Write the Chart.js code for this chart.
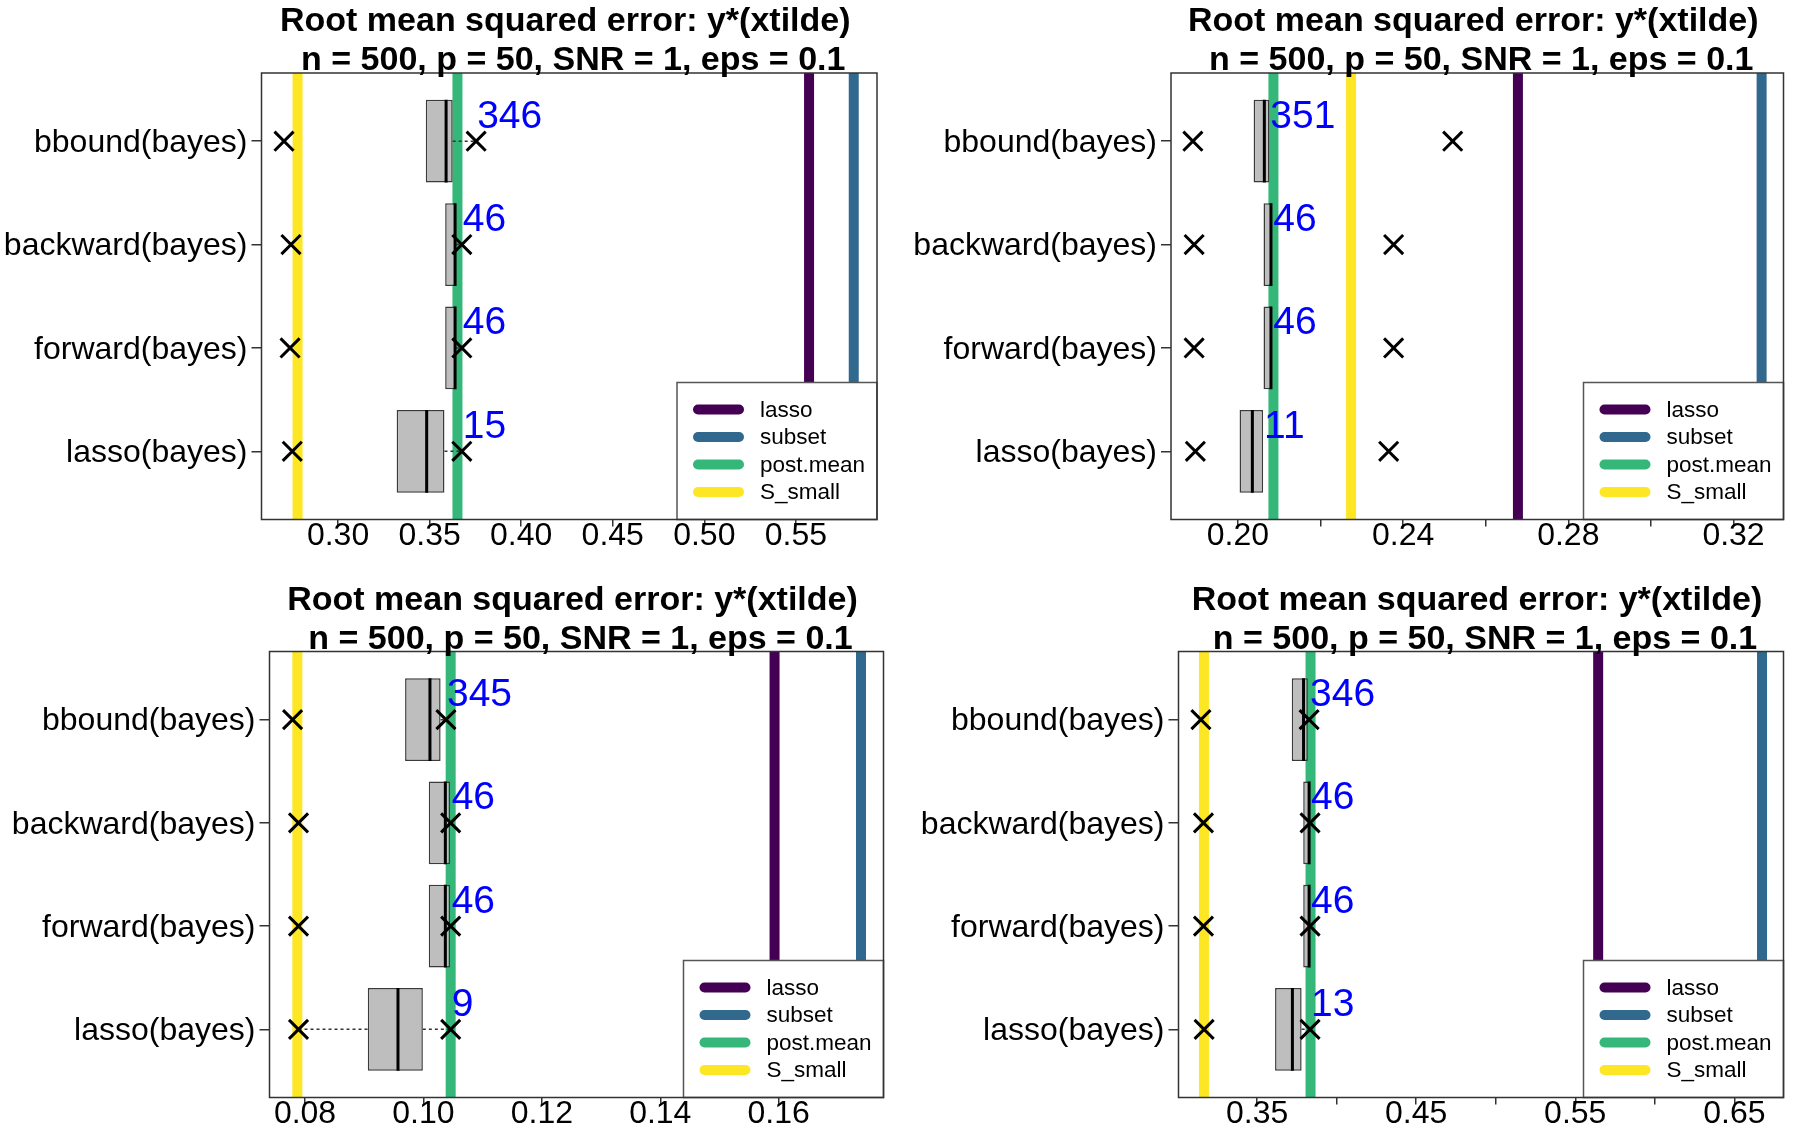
<!DOCTYPE html>
<html>
<head>
<meta charset="utf-8">
<script src="https://cdn.jsdelivr.net/npm/chart.js@4.4.1/dist/chart.umd.min.js"></script>
<style>
  body { margin: 0; background: #fff; }
  #wrap { position: relative; width: 1800px; height: 1128px; }
  canvas { position: absolute; }
</style>
</head>
<body>
<div id="wrap">
  <canvas id="c0" width="900" height="564" style="left:0;top:0"></canvas>
  <canvas id="c1" width="900" height="564" style="left:900px;top:0"></canvas>
  <canvas id="c2" width="900" height="564" style="left:0;top:564px"></canvas>
  <canvas id="c3" width="900" height="564" style="left:900px;top:564px"></canvas>
</div>
<script>
// categories from bottom (1) to top (4)
const catNames = ['lasso(bayes)', 'forward(bayes)', 'backward(bayes)', 'bbound(bayes)'];
const catPos = [1, 2, 3, 4];
const titleLines = ['Root mean squared error: y*(xtilde)', 'n = 500, p = 50, SNR = 1, eps = 0.1'];

// one row per panel: top-left, top-right, bottom-left, bottom-right
const boxQ1 = [
  [0.3320, 0.3585, 0.3585, 0.3479],
  [0.2004, 0.2062, 0.2062, 0.2038],
  [0.0906, 0.1009, 0.1009, 0.0969],
  [0.3613, 0.3790, 0.3790, 0.3718]
];
const boxMed = [
  [0.3484, 0.3639, 0.3639, 0.3590],
  [0.2035, 0.2080, 0.2080, 0.2064],
  [0.0957, 0.1037, 0.1037, 0.1011],
  [0.3722, 0.3827, 0.3827, 0.3792]
];
const boxQ3 = [
  [0.3581, 0.3645, 0.3645, 0.3626],
  [0.2061, 0.2083, 0.2083, 0.2076],
  [0.0999, 0.1045, 0.1045, 0.1029],
  [0.3780, 0.3833, 0.3833, 0.3819]
];
const whiskLo = [
  [0.3320, 0.3585, 0.3585, 0.3479],
  [0.2004, 0.2062, 0.2062, 0.2038],
  [0.0789, 0.1009, 0.1009, 0.0969],
  [0.3613, 0.3790, 0.3790, 0.3718]
];
const whiskHi = [
  [0.3676, 0.3676, 0.3676, 0.3754],
  [0.2061, 0.2083, 0.2083, 0.2076],
  [0.1046, 0.1046, 0.1046, 0.1038],
  [0.3833, 0.3833, 0.3833, 0.3827]
];
const crossLeft = [
  [0.2750, 0.2738, 0.2743, 0.2705],
  [0.1897, 0.1894, 0.1894, 0.1891],
  [0.0789, 0.0789, 0.0789, 0.0779],
  [0.3167, 0.3163, 0.3163, 0.3147]
];
const crossRight = [
  [0.3676, 0.3676, 0.3676, 0.3754],
  [0.2365, 0.2377, 0.2377, 0.2520],
  [0.1046, 0.1046, 0.1046, 0.1038],
  [0.3833, 0.3833, 0.3833, 0.3827]
];
const counts = [
  [15, 46, 46, 346],
  [11, 46, 46, 351],
  [9, 46, 46, 345],
  [13, 46, 46, 346]
];

// reference lines
const refNames = ['lasso', 'subset', 'post.mean', 'S_small'];
const refColors = ['#440154', '#31688E', '#35B779', '#FDE725'];
const refLasso = [0.5572, 0.2678, 0.1593, 0.5644];
const refSubset = [0.5816, 0.3268, 0.1739, 0.6674];
const refPostMean = [0.3652, 0.2086, 0.1046, 0.3836];
const refSSmall = [0.2779, 0.2274, 0.0787, 0.3166];

// axes
const xMin = [0.2582, 0.1838, 0.0740, 0.3006];
const xMax = [0.5943, 0.3321, 0.1777, 0.6809];
const xTicks = [
  [0.30, 0.35, 0.40, 0.45, 0.50, 0.55],
  [0.20, 0.22, 0.24, 0.26, 0.28, 0.30, 0.32],
  [0.08, 0.10, 0.12, 0.14, 0.16],
  [0.35, 0.40, 0.45, 0.50, 0.55, 0.60, 0.65]
];
const xLabelEvery = [1, 2, 1, 2];
const yRange = [0.34, 4.66];

// plot boxes inside each 900x564 canvas
const areas = [
  { l: 261.5, r: 877, t: 73, b: 519.5 },
  { l: 271, r: 886, t: 73, b: 519.5 },
  { l: 269.5, r: 884.5, t: 87.5, b: 533.5 },
  { l: 278.5, r: 894, t: 87.5, b: 533.5 }
];

Chart.defaults.font.family = "'Liberation Sans', Arial, sans-serif";
Chart.defaults.color = '#000';

const decorPlugin = {
  id: 'decor',
  afterDatasetsDraw(chart) {
    const p = chart.options.plugins.decor.panel;
    const ctx = chart.ctx;
    const xs = chart.scales.x, ys = chart.scales.y;
    ctx.save();
    ctx.fillStyle = '#0000FF';
    ctx.font = "39px 'Liberation Sans', Arial, sans-serif";
    ctx.textAlign = 'left';
    ctx.textBaseline = 'alphabetic';
    catPos.forEach((c, i) => {
      ctx.fillText(String(counts[p][i]), xs.getPixelForValue(whiskHi[p][i]) + 1, ys.getPixelForValue(c + 0.13));
    });
    ctx.restore();
  },
  afterDraw(chart) {
    const ctx = chart.ctx;
    const a = chart.chartArea;
    ctx.save();
    // legend
    const lw = 200, lh = 137;
    const lx = a.right - lw, ly = a.bottom - lh;
    ctx.fillStyle = '#fff';
    ctx.fillRect(lx, ly, lw, lh);
    ctx.strokeStyle = '#555';
    ctx.lineWidth = 1.5;
    ctx.strokeRect(lx, ly, lw, lh);
    ctx.font = "22.5px 'Liberation Sans', Arial, sans-serif";
    ctx.textBaseline = 'middle';
    ctx.textAlign = 'left';
    refNames.forEach((n, k) => {
      const yy = ly + 27 + k * 27.5;
      ctx.strokeStyle = refColors[k];
      ctx.lineWidth = 10;
      ctx.lineCap = 'round';
      ctx.beginPath();
      ctx.moveTo(lx + 21, yy);
      ctx.lineTo(lx + 62, yy);
      ctx.stroke();
      ctx.fillStyle = '#000';
      ctx.fillText(n, lx + 83, yy + 1);
    });
    // frame
    ctx.lineCap = 'butt';
    ctx.strokeStyle = '#333';
    ctx.lineWidth = 1.5;
    ctx.strokeRect(a.left, a.top, a.right - a.left, a.bottom - a.top);
    // title
    ctx.fillStyle = '#000';
    ctx.font = "bold 34px 'Liberation Sans', Arial, sans-serif";
    ctx.textAlign = 'center';
    ctx.textBaseline = 'middle';
    const mid = (a.left + a.right) / 2;
    ctx.fillText(titleLines[0], mid - 4, a.top - 51);
    ctx.fillText(titleLines[1], mid + 4, a.top - 12);
    ctx.restore();
  }
};

function makeChart(p) {
  const a = areas[p];
  const H = 564;
  const refVals = [refLasso[p], refSubset[p], refPostMean[p], refSSmall[p]];
  const datasets = [];
  refVals.forEach((v, k) => {
    datasets.push({
      type: 'line', label: refNames[k], order: 4,
      data: [{ x: v, y: yRange[0] }, { x: v, y: yRange[1] }],
      borderColor: refColors[k], borderWidth: 10, pointRadius: 0, borderCapStyle: 'butt'
    });
  });
  datasets.push({
    type: 'bar', indexAxis: 'y', order: 3,
    data: catPos.map((c, i) => ({ y: c, x: [boxQ1[p][i], boxQ3[p][i]] })),
    backgroundColor: '#bebebe', borderColor: '#3a3a3a', borderWidth: 1.5,
    borderSkipped: false, barPercentage: 0.8, categoryPercentage: 1
  });
  const wh = [];
  catPos.forEach((c, i) => {
    wh.push({ x: boxQ3[p][i], y: c }, { x: whiskHi[p][i], y: c }, { x: null, y: null },
            { x: whiskLo[p][i], y: c }, { x: boxQ1[p][i], y: c }, { x: null, y: null });
  });
  datasets.push({
    type: 'line', order: 2, data: wh, borderColor: '#333', borderWidth: 1.5,
    borderDash: [3, 3], pointRadius: 0, spanGaps: false
  });
  const md = [];
  catPos.forEach((c, i) => {
    md.push({ x: boxMed[p][i], y: c - 0.4 }, { x: boxMed[p][i], y: c + 0.4 }, { x: null, y: null });
  });
  datasets.push({
    type: 'line', order: 1, data: md, borderColor: '#000', borderWidth: 3,
    pointRadius: 0, spanGaps: false
  });
  const cr = [];
  catPos.forEach((c, i) => {
    cr.push({ x: crossLeft[p][i], y: c }, { x: crossRight[p][i], y: c });
  });
  datasets.push({
    type: 'line', order: 0, data: cr, showLine: false, pointStyle: 'crossRot',
    pointRadius: 13.5, pointBorderWidth: 3, pointBorderColor: '#000', pointBackgroundColor: '#000'
  });

  new Chart(document.getElementById('c' + p), {
    type: 'scatter',
    data: { datasets },
    options: {
      responsive: false,
      animation: false,
      events: [],
      layout: { padding: { top: a.t, right: 900 - a.r, left: 0, bottom: 0 } },
      plugins: { legend: { display: false }, tooltip: { enabled: false }, decor: { panel: p } },
      scales: {
        x: {
          type: 'linear', min: xMin[p], max: xMax[p], offset: false,
          afterBuildTicks: s => { s.ticks = xTicks[p].map(v => ({ value: v })); },
          afterFit: s => { s.height = H - a.b; },
          ticks: {
            autoSkip: false, maxRotation: 0, minRotation: 0, padding: -10,
            font: { size: 32 }, color: '#000',
            callback: (v, i) => (i % xLabelEvery[p] === 0 ? v.toFixed(2) : '')
          },
          grid: { drawOnChartArea: false, drawTicks: true, tickLength: 7, color: '#333', lineWidth: 1.5, offset: false },
          border: { display: false }
        },
        y: {
          type: 'linear', min: yRange[0], max: yRange[1], offset: false,
          afterBuildTicks: s => { s.ticks = catPos.map(v => ({ value: v })); },
          afterFit: s => { s.width = a.l; },
          ticks: {
            autoSkip: false, padding: 4, labelOffset: 2, font: { size: 32 }, color: '#000',
            callback: v => catNames[Math.round(v) - 1]
          },
          grid: { drawOnChartArea: false, drawTicks: true, tickLength: 10, color: '#333', lineWidth: 1.5, offset: false },
          border: { display: false }
        }
      }
    },
    plugins: [decorPlugin]
  });
}

[0, 1, 2, 3].forEach(makeChart);
</script>
</body>
</html>
